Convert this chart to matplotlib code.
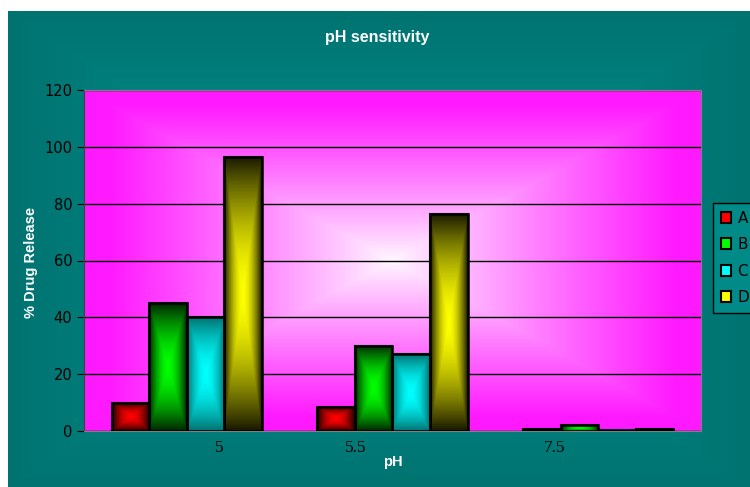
import numpy as np
import matplotlib
matplotlib.use("Agg")
import matplotlib.pyplot as plt
from matplotlib.transforms import blended_transform_factory

# data
ph_labels = ["5", "5.5", "7.5"]
series_names = ["A", "B", "C", "D"]
release_a = [10, 8.5, 0.7]
release_b = [45, 30, 2]
release_c = [40, 27, 0.5]
release_d = [96.5, 76.5, 0.7]
y_ticks = [0, 20, 40, 60, 80, 100, 120]

# gradient colours, (centre, edge) per series
bar_colors = {
    "A": ((1.0, 0.0, 0.0), (0.12, 0.0, 0.0)),
    "B": ((0.0, 1.0, 0.0), (0.0, 0.15, 0.0)),
    "C": ((0.0, 1.0, 1.0), (0.0, 0.45, 0.45)),
    "D": ((1.0, 1.0, 0.0), (0.1, 0.1, 0.0)),
}


def rect_gradient(center, edge, nx=60, ny=60, power=1.0, reach=1.0):
    # excel style "from centre" fill
    u = np.linspace(-1, 1, nx)
    v = np.linspace(-1, 1, ny)
    uu, vv = np.meshgrid(u, v)
    t = np.maximum(np.abs(uu), np.abs(vv))
    t = np.clip(t / reach, 0, 1) ** power
    t = t[..., None]
    c = np.array(center)[None, None, :]
    e = np.array(edge)[None, None, :]
    return c * (1 - t) + e * t


fig = plt.figure(figsize=(7.5, 4.87), dpi=100)
fig.patch.set_facecolor("white")

# teal chart background
bg = fig.add_axes([8 / 750, 0, 1 - 8 / 750, 1 - 11 / 487])
bg.imshow(rect_gradient((0.0, 0.61, 0.60), (0.0, 0.45, 0.44), 200, 200),
          aspect="auto", extent=(0, 1, 0, 1))
bg.set_axis_off()

ax = fig.add_axes([84 / 750, 1 - 431 / 487, 617 / 750, 341 / 487])
ax.set_xlim(-0.5, 2.5)
ax.set_ylim(0, 120)

# magenta plot area
ax.imshow(rect_gradient((1.0, 0.98, 1.0), (1.0, 0.1, 1.0), 300, 300,
                        power=0.9, reach=0.92),
          aspect="auto", extent=(-0.5, 2.5, 0, 120), zorder=0)

ax.set_axisbelow(True)
ax.yaxis.grid(True, color="black", linewidth=1.0)
ax.set_yticks(y_ticks)
ax.tick_params(axis="y", direction="out", length=5, color="black",
               labelsize=10.5, labelcolor="black")
ax.set_xticks([])
for side in ["top", "right", "bottom"]:
    ax.spines[side].set_color("#808080")
ax.spines["left"].set_color("#404040")

x = np.arange(len(ph_labels))
width = 0.183
all_series = [release_a, release_b, release_c, release_d]
for i, (name, vals) in enumerate(zip(series_names, all_series)):
    pos = x + (i - 1.5) * width
    center, edge = bar_colors[name]
    bars = ax.bar(pos, vals, width, color=center, edgecolor="black",
                  linewidth=1.5, label=name, zorder=2)
    for b in bars:
        grad = rect_gradient(center, edge, 60, 120, power=1.7)
        ax.imshow(grad, aspect="auto", zorder=2.5,
                  extent=(b.get_x(), b.get_x() + b.get_width(), 0, b.get_height()))
    ax.bar(pos, vals, width, facecolor="none", edgecolor="black",
           linewidth=1.8, zorder=3)
ax.set_xlim(-0.5, 2.5)
ax.set_ylim(0, 120)

# category labels, drawn off-centre as in the original
label_offsets = [0.16, -0.18, -0.21]
trans = blended_transform_factory(ax.transData, ax.transAxes)
for xi, lab, off in zip(x, ph_labels, label_offsets):
    ax.text(xi + off, -0.05, lab, transform=trans, ha="center", va="center",
            fontsize=12.5, family="Liberation Serif", color="black")

fig.text(0.503, 0.924, "pH sensitivity", ha="center", va="center",
         color="white", fontsize=11.5, fontweight="bold", family="Liberation Sans")
fig.text(0.524, 0.052, "pH", ha="center", va="center",
         color="white", fontsize=10.5, fontweight="bold", family="Liberation Sans")
fig.text(0.041, 0.462, "% Drug Release", ha="center", va="center", rotation=90,
         color="white", fontsize=10.5, fontweight="bold", family="Liberation Sans")

leg = fig.legend(loc="upper left", bbox_to_anchor=(713 / 750, 1 - 203 / 487),
                 frameon=True, fontsize=11, handlelength=0.7, handleheight=0.7,
                 handletextpad=0.4, labelspacing=0.75, borderpad=0.5,
                 fancybox=False, borderaxespad=0)
leg.get_frame().set_facecolor("#008a88")
leg.get_frame().set_edgecolor("black")
leg.get_frame().set_alpha(1)

fig.savefig("out.png", dpi=100)
